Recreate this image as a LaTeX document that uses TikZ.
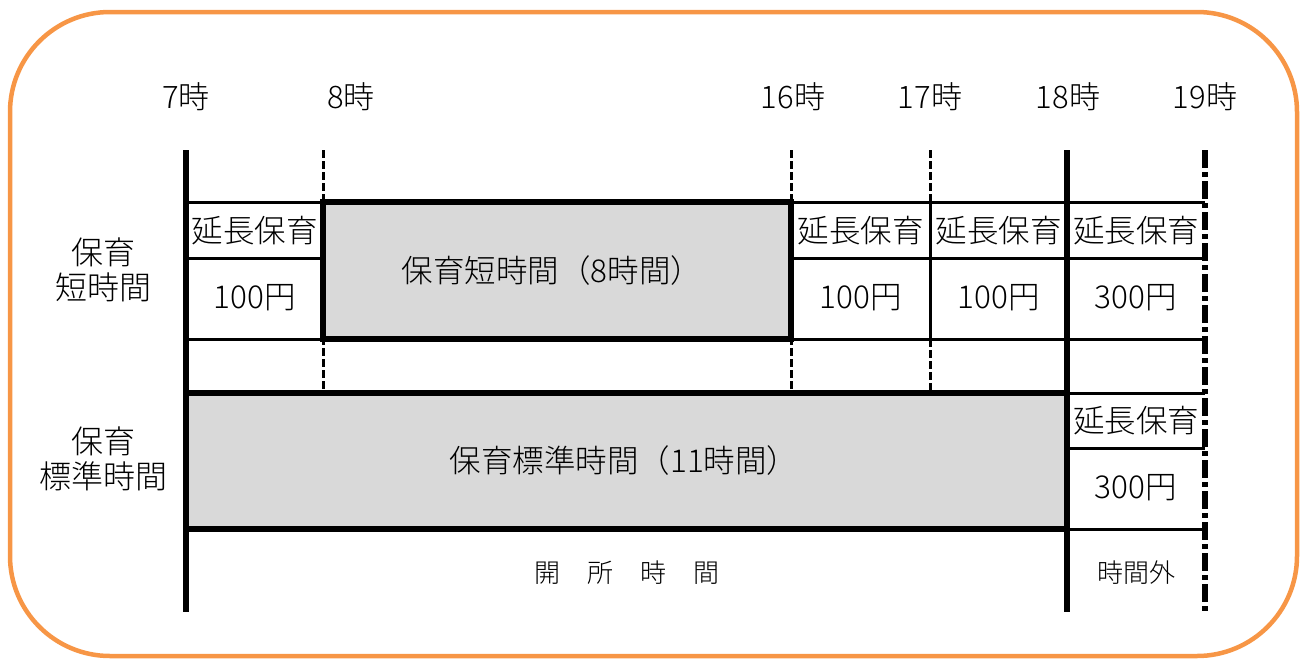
\documentclass[tikz,border=0pt]{standalone}
\usepackage{fontspec}
\setmainfont{Noto Sans CJK JP}[UprightFont={* Light}]
\usepackage{tikz}
\definecolor{marco}{HTML}{F79646}
\definecolor{gris}{HTML}{D9D9D9}
\tikzstyle{hora}=[inner sep=0pt, font=\fontsize{31}{36}\selectfont]
\tikzstyle{celda}=[inner sep=0pt, font=\fontsize{31.5}{36}\selectfont]
\tikzstyle{nota}=[inner sep=0pt, font=\fontsize{26}{30}\selectfont]
\tikzstyle{fino}=[line width=3pt]
\tikzstyle{grueso}=[line width=5.5pt]
\tikzstyle{guion}=[line width=3pt, dash pattern=on 8pt off 3pt]

\begin{document}
\begin{tikzpicture}[x=1pt, y=-1pt]
            \useasboundingbox (0,0) rectangle (1306,659);
            % marco
            \draw[marco, line width=4.5pt, rounded corners=100pt] (10,12) rectangle (1297,656);

            % horas
            \node[hora] (h7) at (186,97) {7時};
            \node[hora] (h8) at (351,97) {8時};
            \node[hora] (h16) at (793,97) {16時};
            \node[hora] (h17) at (930,97) {17時};
            \node[hora] (h18) at (1068,97) {18時};
            \node[hora] (h19) at (1205,97) {19時};

            % cajas grises
            \fill[gris] (323,202) rectangle (791,339);
            \fill[gris] (186,393) rectangle (1067,529);

            % lineas finas
            \draw[fino] (186,202) -- (1205,202);
            \draw[fino] (186,258) -- (323,258);
            \draw[fino] (791,258) -- (1205,258);
            \draw[fino] (186,339) -- (1205,339);
            \draw[fino] (1067,393) -- (1205,393);
            \draw[fino] (1067,448) -- (1205,448);
            \draw[fino] (1067,529) -- (1205,529);
            \draw[fino] (930,202) -- (930,339);

            % lineas de puntos
            \draw[guion] (323,150) -- (323,393);
            \draw[guion] (791,150) -- (791,393);
            \draw[guion] (930,150) -- (930,202);
            \draw[guion] (930,339) -- (930,393);

            % bordes gruesos
            \draw[grueso] (323,202) rectangle (791,339);
            \draw[grueso] (186,393) rectangle (1067,529);
            \draw[grueso] (186,150) -- (186,612);
            \draw[grueso] (1067,150) -- (1067,612);
            \draw[line width=6pt, dash pattern=on 18pt off 4pt on 5pt off 4pt] (1205,150) -- (1205,612);

            % textos de las celdas
            \node[celda] (e1) at (254.5,231) {延長保育};
            \node[celda] (p1) at (254.5,298) {100円};
            \node[celda] (e2) at (860.5,231) {延長保育};
            \node[celda] (p2) at (860.5,298) {100円};
            \node[celda] (e3) at (998.5,231) {延長保育};
            \node[celda] (p3) at (998.5,298) {100円};
            \node[celda] (e4) at (1136,231) {延長保育};
            \node[celda] (p4) at (1136,298) {300円};
            \node[celda] (e5) at (1136,421) {延長保育};
            \node[celda] (p5) at (1136,488) {300円};

            \node[celda] (corto) at (552,271) {保育短時間（8時間）};
            \node[celda] (estandar) at (624,461) {保育標準時間（11時間）};

            \node[celda, align=center, font=\fontsize{32}{35}\selectfont] (t1) at (103,270) {保育\\短時間};
            \node[celda, align=center, font=\fontsize{32}{35}\selectfont] (t2) at (103,459) {保育\\標準時間};

            \node[nota] (abierto) at (627,573) {開\hspace{27pt}所\hspace{27pt}時\hspace{27pt}間};
            \node[nota] (fuera) at (1136,573) {時間外};
        \end{tikzpicture}
\end{document}
